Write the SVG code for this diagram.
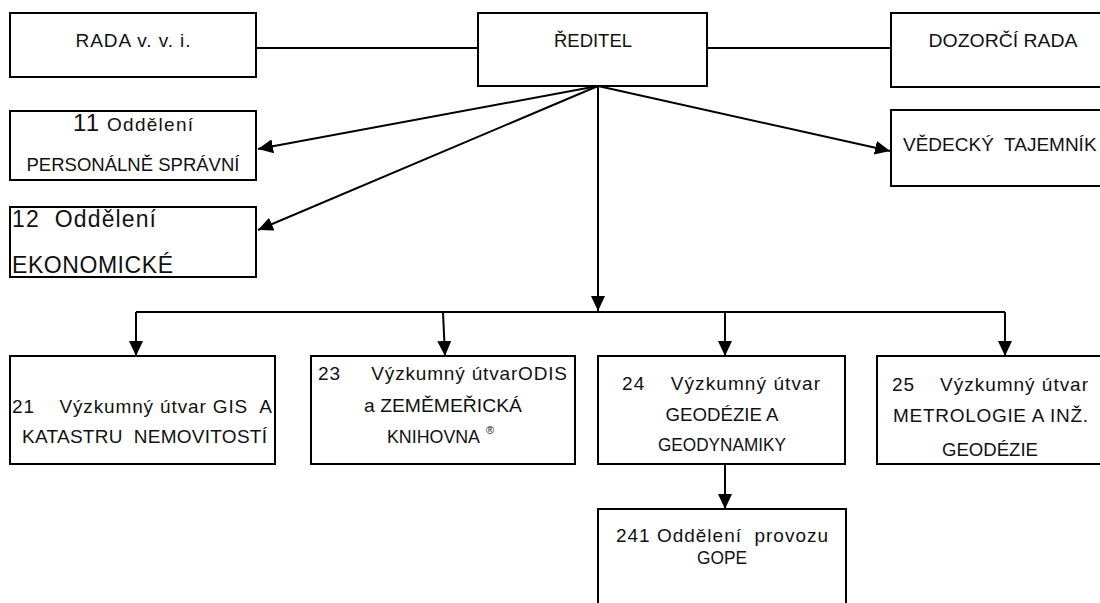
<svg xmlns="http://www.w3.org/2000/svg" width="1100" height="603" viewBox="0 0 1100 603">
<style>
.box{fill:#fff;stroke:#000;stroke-width:2}
.t{font-family:"Liberation Sans",Arial,sans-serif;font-size:19px;fill:#111;white-space:pre}
.c{text-anchor:middle}
.ln{fill:none;stroke:#000;stroke-width:2}
</style>
<defs>
<marker id="ah" markerUnits="userSpaceOnUse" markerWidth="15" markerHeight="14" refX="15" refY="7" orient="auto" viewBox="0 0 15 14">
<path d="M0,0 L15,7 L0,14 z" fill="#000"/>
</marker>
</defs>
<rect width="1100" height="603" fill="#fff"/>
<g id="connectors">
<line class="ln" x1="256" y1="48" x2="478" y2="48"/>
<line class="ln" x1="707" y1="48" x2="891" y2="48"/>
<line class="ln" x1="598" y1="86" x2="258" y2="149" marker-end="url(#ah)"/>
<line class="ln" x1="598" y1="86" x2="258" y2="230" marker-end="url(#ah)"/>
<line class="ln" x1="598" y1="86" x2="890" y2="151" marker-end="url(#ah)"/>
<line class="ln" x1="598" y1="86" x2="598" y2="311" marker-end="url(#ah)"/>
<line class="ln" x1="136" y1="312" x2="1005" y2="312"/>
<line class="ln" x1="136" y1="312" x2="136" y2="356" marker-end="url(#ah)"/>
<line class="ln" x1="443" y1="312" x2="445" y2="356" marker-end="url(#ah)"/>
<line class="ln" x1="725" y1="312" x2="725" y2="356" marker-end="url(#ah)"/>
<line class="ln" x1="1005" y1="312" x2="1005" y2="356" marker-end="url(#ah)"/>
<line class="ln" x1="725" y1="464" x2="725" y2="509" marker-end="url(#ah)"/>
</g>
<g id="rada">
<rect class="box" x="10" y="13" width="246" height="64"/>
<text class="t c" x="133" y="47" textLength="115">RADA v. v. i.</text>
</g>
<g id="reditel">
<rect class="box" x="478" y="13" width="229" height="73"/>
<text class="t c" x="593" y="47" textLength="78" lengthAdjust="spacingAndGlyphs">ŘEDITEL</text>
</g>
<g id="dozorci">
<rect class="box" x="891" y="13" width="220" height="74"/>
<text class="t c" x="1003" y="47" textLength="149" lengthAdjust="spacingAndGlyphs">DOZORČÍ RADA</text>
</g>
<g id="vedecky">
<rect class="box" x="891" y="110" width="220" height="76"/>
<text class="t" x="903" y="151">VĚDECKÝ  TAJEMNÍK</text>
</g>
<g id="odd11">
<rect class="box" x="10" y="111" width="246" height="69"/>
<text class="t" x="73" y="131" textLength="120"><tspan style="font-size:24px">11</tspan><tspan> Oddělení</tspan></text>
<text class="t c" x="133" y="171" textLength="213" lengthAdjust="spacingAndGlyphs">PERSONÁLNĚ SPRÁVNÍ</text>
</g>
<g id="odd12">
<rect class="box" x="10" y="207" width="246" height="70"/>
<text class="t" x="12" y="227" style="font-size:23px" textLength="144">12  Oddělení</text>
<text class="t" x="12" y="273" style="font-size:23px" textLength="161">EKONOMICKÉ</text>
</g>
<g id="u21">
<rect class="box" x="10" y="356" width="265" height="108"/>
<text class="t" x="12" y="413" textLength="260">21    Výzkumný útvar GIS  A</text>
<text class="t" x="22" y="443" textLength="245">KATASTRU  NEMOVITOSTÍ</text>
</g>
<g id="u23">
<rect class="box" x="311" y="356" width="264" height="108"/>
<text class="t" x="318" y="380" textLength="249">23     Výzkumný útvarODIS</text>
<text class="t c" x="443" y="412" textLength="158" lengthAdjust="spacingAndGlyphs">a ZEMĚMEŘICKÁ</text>
<text class="t" x="387" y="443" textLength="93" lengthAdjust="spacingAndGlyphs">KNIHOVNA</text>
<text class="t" x="486" y="434" style="font-size:11px">®</text>
</g>
<g id="u24">
<rect class="box" x="598" y="356" width="247" height="108"/>
<text class="t" x="622" y="390" textLength="198">24    Výzkumný útvar</text>
<text class="t c" x="722" y="421" textLength="113" lengthAdjust="spacingAndGlyphs">GEODÉZIE A</text>
<text class="t c" x="722" y="451" textLength="128" lengthAdjust="spacingAndGlyphs">GEODYNAMIKY</text>
</g>
<g id="u25">
<rect class="box" x="877" y="356" width="240" height="108"/>
<text class="t" x="892" y="391" textLength="196">25    Výzkumný útvar</text>
<text class="t" x="893" y="422" textLength="195">METROLOGIE A INŽ.</text>
<text class="t c" x="990" y="456" textLength="96" lengthAdjust="spacingAndGlyphs">GEODÉZIE</text>
</g>
<g id="o241">
<rect class="box" x="598" y="509" width="248" height="110"/>
<text class="t c" x="722" y="542" textLength="212">241 Oddělení  provozu</text>
<text class="t c" x="722" y="564" textLength="50" lengthAdjust="spacingAndGlyphs">GOPE</text>
</g>
</svg>
